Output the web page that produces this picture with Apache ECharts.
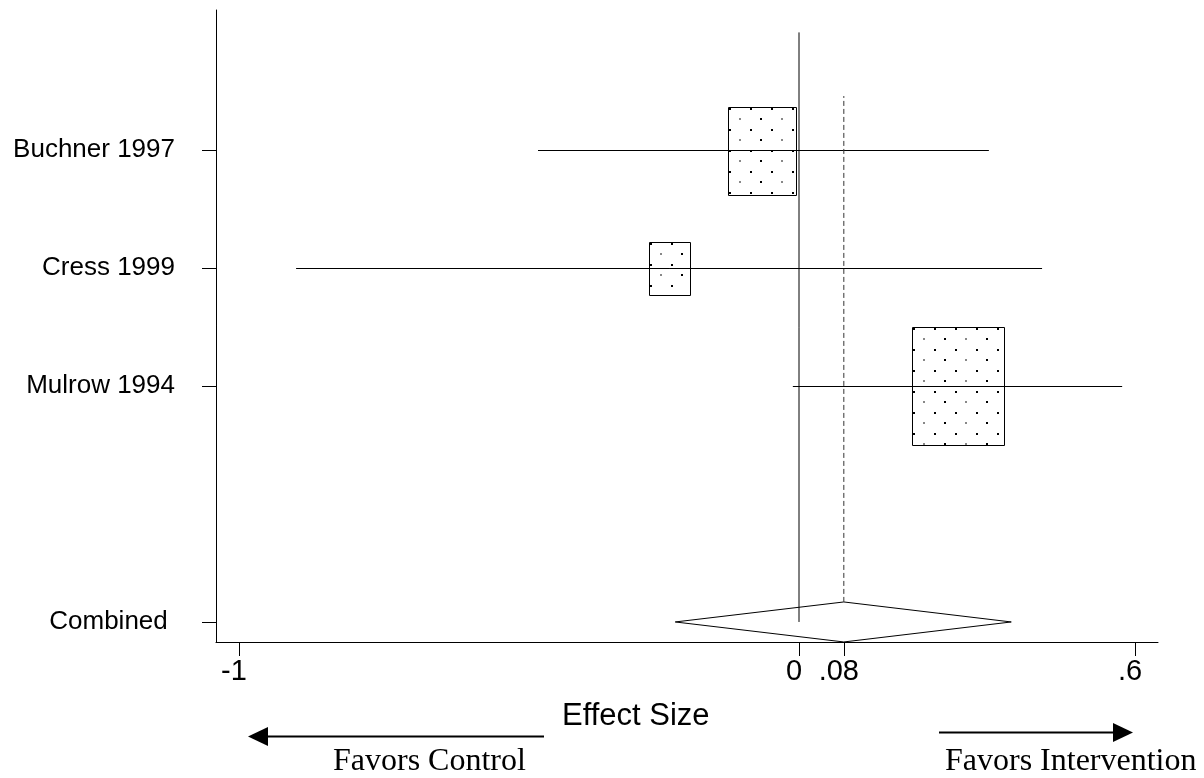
<!DOCTYPE html>
<html>
<head>
<meta charset="utf-8">
<script src="https://cdn.jsdelivr.net/npm/echarts@6/dist/echarts.min.js"></script>
<style>
  html, body { margin: 0; background: #fff; }
  #chart { width: 1204px; height: 778px; }
</style>
</head>
<body>
<div id="chart"></div>
<script>
// study rows (top to bottom), estimates and 95% CI
const studies = ['Buchner 1997', 'Cress 1999', 'Mulrow 1994']
const studyRows = [4, 3, 2]
const effects = [-0.065, -0.232, 0.284]
const lower = [-0.466, -0.898, -0.011]
const upper = [0.339, 0.434, 0.577]
const weights = [31.5, 11.4, 57.0]

// pooled estimate
const pooledLabel = 'Combined '
const pooledRow = 0
const pooledLower = -0.221
const pooledEffect = 0.08
const pooledUpper = 0.379

// reference lines: [x, yFrom, yTo]
const nullLine = [0, 0, 5]
const pooledLine = [0.08, 0.17, 4.46]

const xTicks = [-1, 0, 0.08, 0.6]
const xTickLabels = ['-1', '0', '.08', '.6']
const yTicks = [pooledRow, ...studyRows]
const yTickLabels = [pooledLabel, ...studies]

const chart = echarts.init(document.getElementById('chart'))

// dotted fill like the original stata boxes
const tile = document.createElement('canvas')
tile.width = 42
tile.height = 21
const tc = tile.getContext('2d')
tc.fillStyle = '#fff'
tc.fillRect(0, 0, 42, 21)
tc.fillStyle = '#000'
tc.fillRect(0, 0, 2, 2)
tc.fillRect(21, 0, 2, 2)
tc.fillRect(31, 10, 2, 2)
tc.fillStyle = '#888'
tc.fillRect(10, 10, 2, 2)

const crisp = v => Math.round(v) + 0.5

function pickLabel(v, ticks, labels) {
  let best = 0
  ticks.forEach((t, i) => { if (Math.abs(t - v) < Math.abs(ticks[best] - v)) best = i })
  return labels[best]
}

const studyData = studies.map((s, i) => [effects[i], studyRows[i], lower[i], upper[i], weights[i]])

const option = {
  animation: false,
  grid: { left: 216, right: 46, top: 10, bottom: 136 },
  xAxis: {
    type: 'value',
    min: -1.041,
    max: 0.641,
    splitLine: { show: false },
    axisLine: { onZero: false, lineStyle: { color: '#000', width: 1 } },
    axisTick: { customValues: xTicks, length: 14, lineStyle: { color: '#000' } },
    axisLabel: {
      customValues: xTicks,
      formatter: v => pickLabel(v, xTicks, xTickLabels),
      fontFamily: 'Arial, "Liberation Sans", sans-serif',
      fontSize: 29,
      color: '#000',
      margin: 15,
      padding: [0, 10, 0, 0]
    }
  },
  yAxis: {
    type: 'value',
    min: -0.17,
    max: 5.19,
    splitLine: { show: false },
    axisLine: { show: true, onZero: false, lineStyle: { color: '#000', width: 1 } },
    axisTick: { show: true, customValues: yTicks, length: 14, lineStyle: { color: '#000' } },
    axisLabel: {
      customValues: yTicks,
      formatter: v => pickLabel(v, yTicks, yTickLabels),
      fontFamily: 'Arial, "Liberation Sans", sans-serif',
      fontSize: 26,
      color: '#000',
      margin: 41,
      padding: [0, 0, 12, 0]
    }
  },
  series: [
    {
      type: 'line',
      silent: true,
      symbol: 'none',
      lineStyle: { color: '#000', width: 1 },
      data: [[nullLine[0], nullLine[1]], [nullLine[0], nullLine[2]]]
    },
    {
      type: 'line',
      silent: true,
      symbol: 'none',
      lineStyle: { color: '#333', width: 1, type: [5, 3] },
      data: [[pooledLine[0], pooledLine[1]], [pooledLine[0], pooledLine[2]]]
    },
    {
      type: 'custom',
      silent: true,
      data: studyData,
      renderItem: (params, api) => {
        const c = api.coord([api.value(0), api.value(1)])
        const lo = api.coord([api.value(2), api.value(1)])
        const hi = api.coord([api.value(3), api.value(1)])
        const h = 15.6 * Math.sqrt(api.value(4))
        const w = 0.78 * h
        const x0 = Math.round(c[0] - w / 2)
        const y0 = Math.round(c[1] - h / 2)
        const y = crisp(c[1])
        return {
          type: 'group',
          children: [
            {
              type: 'rect',
              shape: { x: x0 + 0.5, y: y0 + 0.5, width: Math.round(w), height: Math.round(h) },
              style: {
                fill: { image: tile, repeat: 'repeat', x: x0 + 1, y: y0 + 1 },
                stroke: '#000',
                lineWidth: 1
              }
            },
            {
              type: 'line',
              shape: { x1: lo[0], y1: y, x2: hi[0], y2: y },
              style: { stroke: '#000', lineWidth: 1 }
            }
          ]
        }
      }
    },
    {
      type: 'custom',
      silent: true,
      data: [[pooledLower, pooledEffect, pooledUpper, pooledRow]],
      renderItem: (params, api) => {
        const l = api.coord([api.value(0), api.value(3)])
        const m = api.coord([api.value(1), api.value(3)])
        const r = api.coord([api.value(2), api.value(3)])
        const half = 20
        return {
          type: 'polygon',
          shape: { points: [[l[0], m[1]], [m[0], m[1] - half], [r[0], m[1]], [m[0], m[1] + half]] },
          style: { fill: 'none', stroke: '#000', lineWidth: 1 }
        }
      }
    }
  ],
  graphic: [
    {
      type: 'text',
      left: 562,
      top: 701,
      style: {
        text: 'Effect Size',
        font: '31px Arial, "Liberation Sans", sans-serif',
        fill: '#000'
      }
    },
    {
      type: 'line',
      shape: { x1: 544, y1: 736.5, x2: 266, y2: 736.5 },
      style: { stroke: '#000', lineWidth: 2 }
    },
    {
      type: 'polygon',
      shape: { points: [[248, 736.5], [268, 727], [268, 746]] },
      style: { fill: '#000' }
    },
    {
      type: 'line',
      shape: { x1: 939, y1: 732.5, x2: 1115, y2: 732.5 },
      style: { stroke: '#000', lineWidth: 2 }
    },
    {
      type: 'polygon',
      shape: { points: [[1133, 732.5], [1113, 723], [1113, 742]] },
      style: { fill: '#000' }
    },
    {
      type: 'text',
      left: 333,
      top: 746,
      style: {
        text: 'Favors Control',
        font: '32px "Liberation Serif", "Times New Roman", serif',
        fill: '#000'
      }
    },
    {
      type: 'text',
      left: 945,
      top: 746,
      style: {
        text: 'Favors Intervention',
        font: '32px "Liberation Serif", "Times New Roman", serif',
        fill: '#000'
      }
    }
  ]
}

chart.setOption(option)
</script>
</body>
</html>
